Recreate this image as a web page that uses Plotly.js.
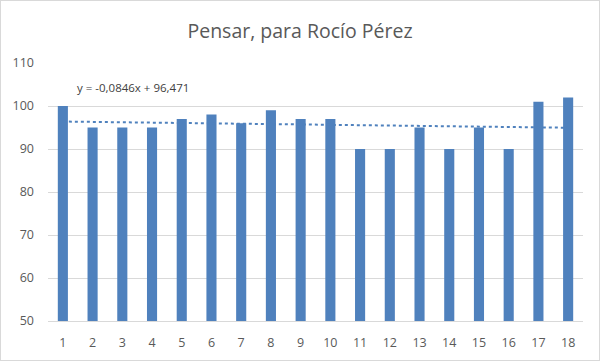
<!DOCTYPE html>
<html><head><meta charset="utf-8">
<script src="https://cdn.plot.ly/plotly-3.0.1.min.js"></script>
<style>html,body{margin:0;padding:0;background:#fff}#chart{width:598px;height:359px;border:1px solid #d9d9d9}</style>
</head><body><div id="chart"></div>
<script>
const categories = [1,2,3,4,5,6,7,8,9,10,11,12,13,14,15,16,17,18];
const values = [100,95,95,95,97,98,96,99,97,97,90,90,95,90,95,90,101,102];
const trendSlope = -0.0846;
const trendIntercept = 96.471;
const trendLabel = "y = -0,0846x + 96,471";
const yTicks = [50,60,70,80,90,100,110];

const tx = [categories[0], categories[categories.length-1]];
const ty = tx.map(x => trendSlope*x + trendIntercept);

const data = [
  {type:'bar', x:categories, y:values, marker:{color:'#4f81bd'}, hoverinfo:'x+y'},
  {type:'scatter', mode:'lines', x:tx, y:ty, line:{color:'#4f81bd', width:2, dash:'dot'}}
];
const layout = {
  width:598, height:359,
  margin:{l:47, r:16, t:62, b:39},
  showlegend:false,
  bargap:0.66,
  paper_bgcolor:'#fff', plot_bgcolor:'#fff',
  font:{family:'"Open Sans", sans-serif', color:'#595959', size:12.5},
  title:{text:'Pensar, para Rocío Pérez', x:0.5, xanchor:'center', y:0.915, yanchor:'middle', font:{size:19.5, color:'#595959'}},
  xaxis:{type:'linear', range:[0.5,18.5], tickvals:categories, ticktext:categories.map(String), showgrid:false, zeroline:false, showline:true, linecolor:'#d9d9d9', ticks:'', ticklabelstandoff:10, tickfont:{size:12.5,color:'#595959'}},
  yaxis:{range:[50,110], tickvals:yTicks, showgrid:true, gridcolor:'#d9d9d9', zeroline:false, showline:false, ticks:'', ticklabelstandoff:13, tickfont:{size:12.5,color:'#595959'}},
  annotations:[{text:trendLabel, x:1.4, y:104.3, xref:'x', yref:'y', xanchor:'left', yanchor:'middle', showarrow:false, font:{size:11.5, color:'#404040'}}]
};
Plotly.newPlot('chart', data, layout, {displayModeBar:false, staticPlot:true});
</script></body></html>
